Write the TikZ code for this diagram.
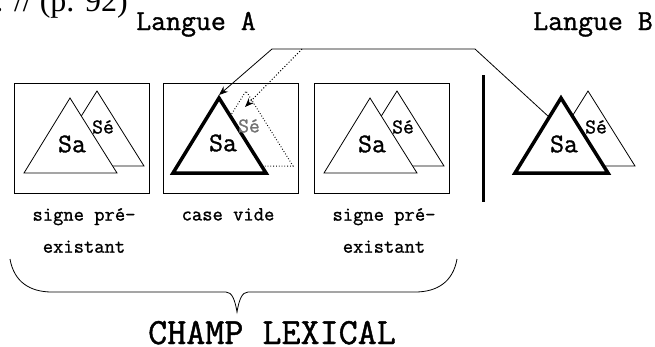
\documentclass[tikz,border=0pt]{standalone}
\usepackage{fontspec}
\newfontfamily\reffont{Liberation Serif}
\newfontfamily\slabfont[FakeBold=1.2]{Latin Modern Mono}
\usetikzlibrary{arrows.meta}

\tikzset{
  sign/.style={draw, line width=0.8pt, fill=white, line join=miter},
  boldsign/.style={draw, line width=3.5pt, fill=white, line join=miter},
  frame/.style={draw, line width=0.9pt},
  sa/.style={inner sep=0pt, font=\slabfont\bfseries\fontsize{27}{27}\selectfont},
  se/.style={inner sep=0pt, font=\slabfont\bfseries\fontsize{21}{21}\selectfont},
  title/.style={inner sep=0pt, anchor=base, font=\slabfont\bfseries\fontsize{29}{29}\selectfont},
  caption/.style={inner sep=0pt, anchor=north, align=center, font=\slabfont\bfseries\fontsize{20}{32}\selectfont}
}

\begin{document}
\begin{tikzpicture}[x=1pt, y=-1pt, >={Stealth[length=9pt, width=7pt]}]
  \useasboundingbox (0,0) rectangle (655,346);

  % titres
  \node[inner sep=0pt, anchor=base east, font=\reffont\fontsize{32}{32}\selectfont] (ref) at (128,11.5) {. // (p. 92)};
  \node[title] (langA) at (196,30) {Langue A};
  \node[title] (langB) at (593,30) {Langue B};

  % case 1 : signe pre-existant
  \begin{scope}[shift={(0,0)}]
    \draw[frame] (14,83) rectangle (149,193);
    \draw[sign] (50,166) -- (97,91) -- (144,166) -- cycle;
    \draw[sign] (24,173) -- (70,98) -- (117,173) -- cycle;
    \node[sa] (sa1) at (72,144) {Sa};
    \node[se] (se1) at (103,127) {Sé};
  \end{scope}

  % case 2 : case vide
  \begin{scope}[shift={(149,0)}]
    \draw[frame] (14,83) rectangle (149,193);
    \draw[sign, dotted, line width=1pt] (50,166) -- (97,91) -- (144,166) -- cycle;
    \draw[boldsign] (24,173) -- (70,98) -- (117,173) -- cycle;
    \coordinate (topA) at (70,95);
    \coordinate (seA) at (96,107);
    \node[sa] (sa2) at (74,143) {Sa};
    \node[se, black!55] (se2) at (100,126) {Sé};
  \end{scope}

  % case 3 : signe pre-existant
  \begin{scope}[shift={(300,0)}]
    \draw[frame] (14,83) rectangle (149,193);
    \draw[sign] (50,166) -- (97,91) -- (144,166) -- cycle;
    \draw[sign] (24,173) -- (70,98) -- (117,173) -- cycle;
    \node[sa] (sa3) at (72,144) {Sa};
    \node[se] (se3) at (103,127) {Sé};
  \end{scope}

  % frontiere entre les langues
  \draw[line width=3pt] (483,75) -- (483,202);

  % signe de la langue B
  \begin{scope}[shift={(491,0)}]
    \draw[sign] (50,166) -- (97,91) -- (144,166) -- cycle;
    \draw[boldsign] (24,173) -- (70,98) -- (117,173) -- cycle;
    \coordinate (hitB) at (58,117);
    \node[sa] (sa4) at (73,144) {Sa};
    \node[se] (se4) at (105,127) {Sé};
  \end{scope}

  % emprunt
  \coordinate (bendR) at (475,49);
  \coordinate (bendL) at (272,49);
  \coordinate (split) at (302,49);
  \draw[line width=0.8pt, ->] (hitB) -- (bendR) -- (bendL) -- (topA);
  \draw[line width=1pt, dotted, ->] (split) -- (seA);

  % legendes
  \node[caption] (cap1) at (84,208) {signe pré-\\existant};
  \node[caption] (cap2) at (228,208) {case vide};
  \node[caption] (cap3) at (384,208) {signe pré-\\existant};

  % accolade
  \draw[line width=0.8pt] (10,259) .. controls (14,282) and (30,292) .. (52,292)
    -- (226,292) .. controls (232,292) and (235,300) .. (237,312)
    .. controls (239,300) and (242,292) .. (248,292)
    -- (415,292) .. controls (437,292) and (453,282) .. (457,259);
  \node[inner sep=0pt, anchor=base, font=\slabfont\bfseries\fontsize{37}{37}\selectfont] (champ) at (272,344) {CHAMP LEXICAL};
\end{tikzpicture}
\end{document}
